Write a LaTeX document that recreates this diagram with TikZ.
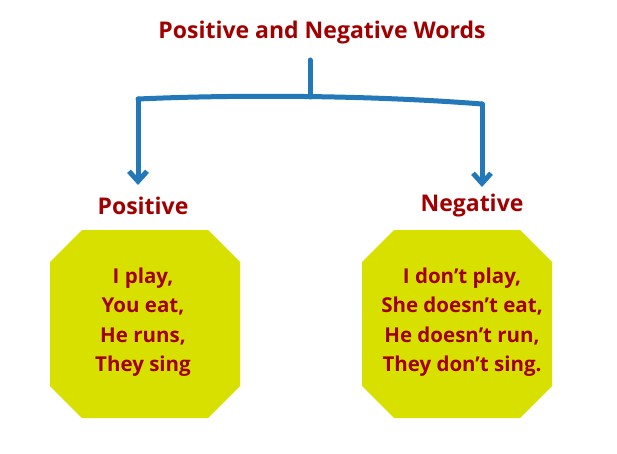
\documentclass[tikz,border=0pt]{standalone}
\usepackage{fontspec}
\setmainfont{Open Sans}
\usetikzlibrary{arrows.meta}
\definecolor{dred}{HTML}{A00000}
\definecolor{ylw}{HTML}{D8E000}
\definecolor{blu}{HTML}{2278B8}
\begin{document}
\begin{tikzpicture}[x=1pt,y=-1pt,
  lbl/.style={text=dred,font=\bfseries\fontsize{23}{26}\selectfont},
  body/.style={text=dred,font=\bfseries\fontsize{20.5}{29.5}\selectfont,align=center},
  conn/.style={blu,line width=5pt,line cap=round,line join=round},
  arr/.style={conn,-{Straight Barb[length=10pt,width=18pt,line width=5pt]}}]
\useasboundingbox (0,0) rectangle (617,454);
\node[lbl] (title) at (322,33) {Positive and Negative Words};
\node[lbl] (pos) at (143,206) {Positive};
\node[lbl] (neg) at (472,206) {Negative};
\def\oct#1#2{\fill[ylw] (#1+32,230) -- (#1+158,230) -- (#1+190,262) -- (#1+190,386) -- (#1+158,418) -- (#1+32,418) -- (#1,386) -- (#1,262) -- cycle;}
\oct{50}{}
\oct{362}{}
\node[body] (pb) at (143,322) {I play,\\You eat,\\He runs,\\They sing};
\node[body] (nb) at (462,322) {I don’t play,\\She doesn’t eat,\\He doesn’t run,\\They don’t sing.};
\coordinate (top) at (310,60);
\coordinate (mid) at (310,97);
\coordinate (l) at (138,99);
\coordinate (r) at (482,104);
\draw[conn] (top) -- (mid);
\draw[conn] (l) .. controls (250,94) and (380,96) .. (r);
\draw[arr] (l) -- (138,185);
\draw[arr] (r) -- (482,187);
\end{tikzpicture}
\end{document}
